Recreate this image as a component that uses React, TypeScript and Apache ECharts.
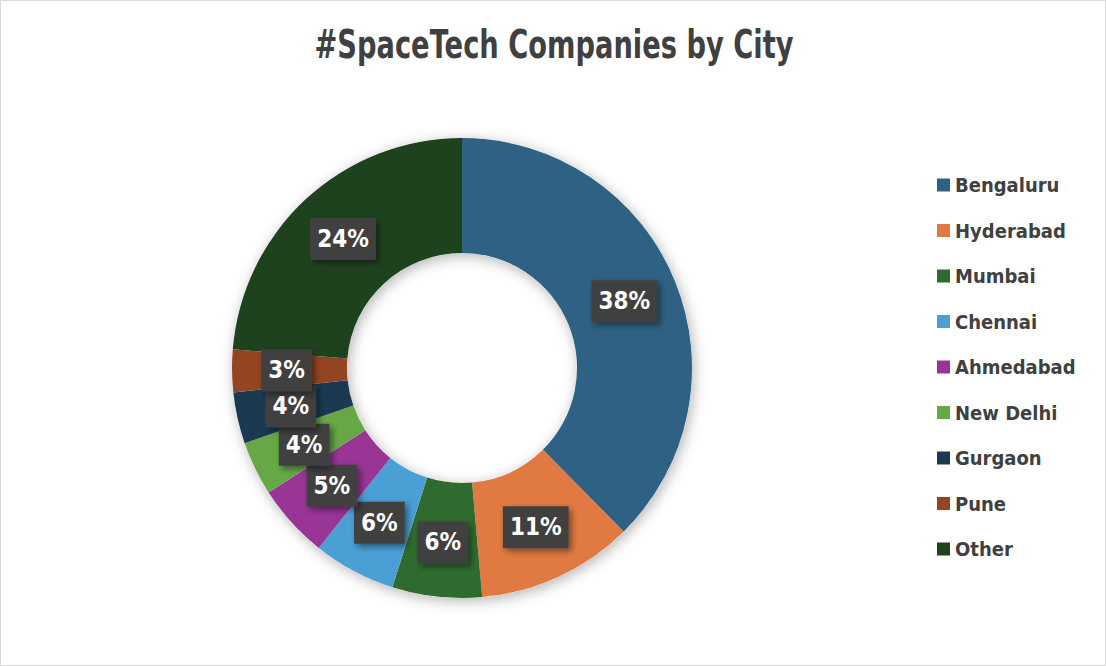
import React, { useEffect, useRef } from "react";
import * as echarts from "echarts";

const cities = ["Bengaluru", "Hyderabad", "Mumbai", "Chennai", "Ahmedabad", "New Delhi", "Gurgaon", "Pune", "Other"];
const shares = [37.6, 11.0, 6.3, 5.8, 5.2, 3.8, 3.6, 3.0, 23.7];
const colors = ["#2E6183", "#E07A42", "#2F6B2E", "#4A9FD5", "#983595", "#66A846", "#1B3A52", "#934420", "#1F421E"];
const titleText = "#SpaceTech Companies by City";

const FONT = "'DejaVu Sans Condensed', 'Liberation Sans Narrow', 'DejaVu Sans', sans-serif";

export default function App() {
  const ref = useRef<HTMLDivElement>(null);
  useEffect(() => {
    if (!ref.current) return;
    const chart = echarts.init(ref.current, null, { renderer: "svg" });
    chart.setOption({
      animation: false,
      backgroundColor: "#ffffff",
      graphic: [
        {
          type: "text",
          x: 554,
          y: 45,
          scaleX: 0.7,
          originX: 0,
          style: {
            text: titleText,
            font: "bold 39px 'DejaVu Sans', sans-serif",
            fill: "#404040",
            align: "center",
            verticalAlign: "middle",
          },
        },
      ],
      legend: {
        orient: "vertical",
        left: 932,
        top: 168,
        icon: "rect",
        itemWidth: 13,
        itemHeight: 13,
        itemGap: 21.5,
        selectedMode: false,
        data: cities,
        textStyle: {
          color: "#404040",
          fontFamily: FONT,
          fontWeight: "bold",
          fontSize: 20,
          lineHeight: 24,
        },
      },
      series: [
        {
          type: "pie",
          silent: true,
          center: [462, 368],
          radius: [115, 230],
          label: { show: false },
          labelLine: { show: false },
          data: [{ value: 1, name: "__bg" }],
          itemStyle: {
            color: "#ffffff",
            shadowBlur: 14,
            shadowOffsetX: 2,
            shadowOffsetY: 3,
            shadowColor: "rgba(0,0,0,0.3)",
          },
        },
        {
          type: "pie",
          center: [462, 368],
          radius: [115, 230],
          startAngle: 90,
          clockwise: true,
          avoidLabelOverlap: false,
          labelLayout: { hideOverlap: false },
          data: cities.map((c, i) => ({ name: c, value: shares[i], itemStyle: { color: colors[i] } })),
          itemStyle: { borderWidth: 0 },
          labelLine: { show: false },
          label: {
            show: true,
            position: "inside",
            formatter: (p: any) => Math.round(p.percent) + "%",
            color: "#ffffff",
            fontFamily: FONT,
            fontWeight: "bold",
            fontSize: 24,
            lineHeight: 28,
            backgroundColor: "#404040",
            padding: [7, 7, 7, 7],
            shadowBlur: 6,
            shadowOffsetX: 3,
            shadowOffsetY: 3,
            shadowColor: "rgba(0,0,0,0.45)",
          },
          emphasis: { disabled: true },
        },
      ],
    });
    return () => chart.dispose();
  }, []);
  return (
    <div
      style={{
        position: "absolute",
        left: 0,
        top: 0,
        width: 1106,
        height: 666,
        boxSizing: "border-box",
        background: "#fff",
      }}
    >
      <div ref={ref} style={{ position: "absolute", left: 0, top: 0, width: 1106, height: 666 }} />
      <div style={{ position: "absolute", left: 0, top: 0, width: 1106, height: 666, boxSizing: "border-box", border: "1px solid #d9d9d9", pointerEvents: "none" }} />
    </div>
  );
}
